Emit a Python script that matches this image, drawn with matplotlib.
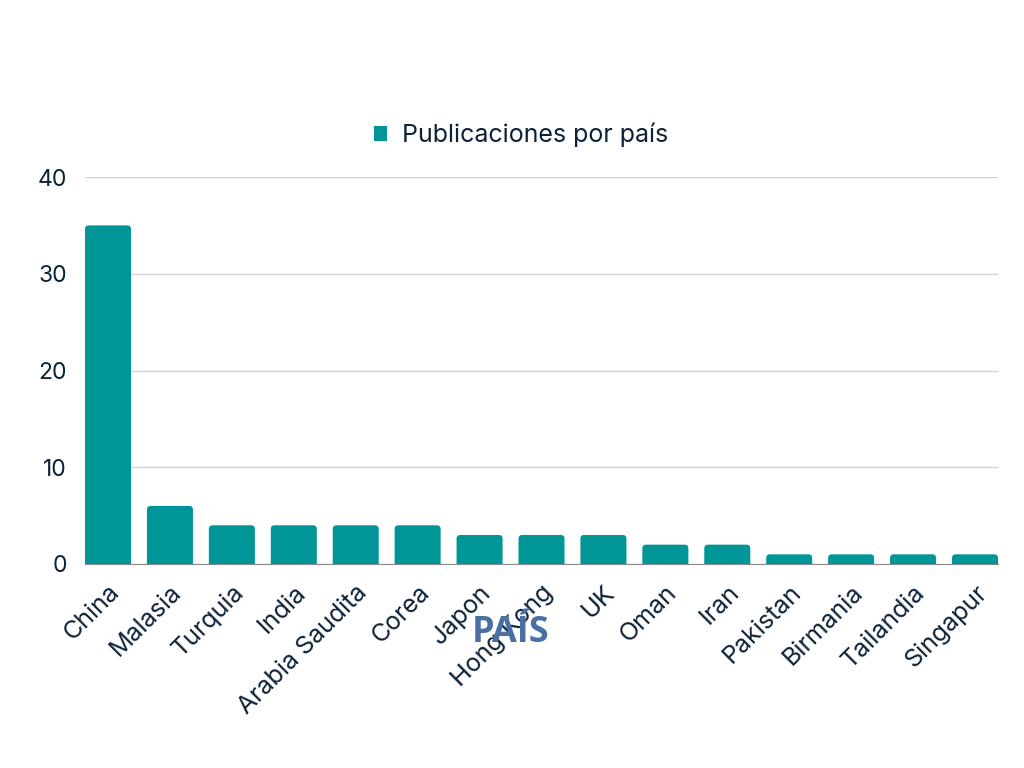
import matplotlib.pyplot as plt
from matplotlib.patches import FancyBboxPatch

paises = ["China", "Malasia", "Turquia", "India", "Arabia Saudita", "Corea", "Japon",
          "Hong Kong", "UK", "Oman", "Iran", "Pakistan", "Birmania", "Tailandia", "Singapur"]
publicaciones = [35, 6, 4, 4, 4, 4, 3, 3, 3, 2, 2, 1, 1, 1, 1]

teal = "#009597"
texto = "#0d2137"

plt.rcParams['font.family'] = ['Inter', 'DejaVu Sans']

fig = plt.figure(figsize=(10.24, 7.68), dpi=100)
ax = fig.add_axes([85/1024, 1-564/768, 913/1024, 387/768])

ancho = 0.743
x = list(range(len(paises)))
ax.set_xlim(-ancho/2, len(paises)-1+ancho/2)
ax.set_ylim(0, 40)

# barras con esquinas redondeadas
px_x = (len(paises)-1+ancho) / 913
px_y = 40 / 387
aspecto = px_y / px_x
for xi, v in zip(x, publicaciones):
    p = FancyBboxPatch((xi-ancho/2, -1), ancho, v+1,
                       boxstyle="round,pad=0,rounding_size=0.06",
                       mutation_aspect=aspecto, facecolor=teal, edgecolor="none", zorder=3)
    ax.add_patch(p)

ax.set_yticks([0, 10, 20, 30, 40])
ax.yaxis.grid(True, color="#d3d3d3", linewidth=1)
ax.set_axisbelow(True)
for s in ["top", "right", "left"]:
    ax.spines[s].set_visible(False)
ax.spines["bottom"].set_color("#8a8a8a")
ax.spines["bottom"].set_zorder(4)
ax.tick_params(axis="both", length=0, colors=texto)
ax.tick_params(axis="y", pad=13, labelsize=16.5)
ax.tick_params(axis="x", pad=12, labelsize=18)
ax.set_xticks(x)
ax.set_xticklabels(paises, rotation=45, ha="right", rotation_mode="anchor")

# leyenda
ax.bar([0], [0], color=teal, label="Publicaciones por país")
ax.legend(loc="center", bbox_to_anchor=(521/1024, 1-135/768), bbox_transform=fig.transFigure,
          frameon=False, fontsize=18, handlelength=0.55, handleheight=0.55,
          handletextpad=0.6, labelcolor=texto)

fig.text(511/1024, 1-633/768, "PAÍS", ha="center", va="center", fontsize=26,
         fontweight="bold", color="#4a6fa5", family=["Open Sans", "DejaVu Sans"])

fig.savefig("out.png", dpi=100, facecolor="white")
